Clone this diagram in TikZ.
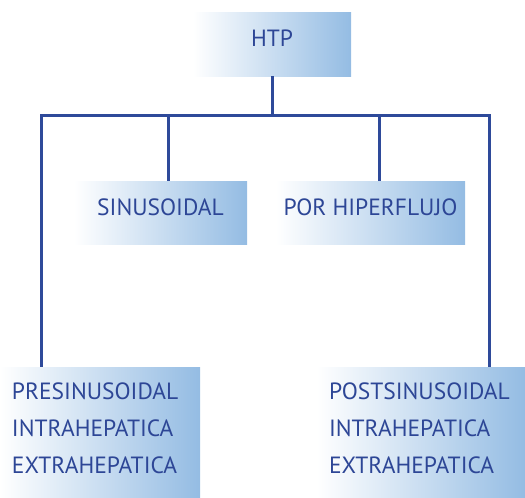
\documentclass[tikz,border=0pt]{standalone}
\usepackage{fontspec}
\setmainfont{PT Sans}
\usetikzlibrary{positioning}

\definecolor{inkblue}{HTML}{2D4696}
\definecolor{lineblue}{HTML}{2E4A9A}
\definecolor{boxblue}{HTML}{94BCE3}

\newcommand{\lowpad}{\rule[-8pt]{0pt}{8pt}}

\tikzset{
  grbox/.style={left color=white, right color=boxblue, draw=none,
    text=inkblue, inner sep=0pt, font=\fontsize{23.5}{37}\selectfont},
  onebox/.style={grbox, text height=17pt, text depth=12pt},
  listbox/.style={grbox, align=left, inner xsep=12pt},
  tree/.style={draw=lineblue, line width=3pt}
}

\begin{document}
\begin{tikzpicture}[x=1pt, y=-1pt]
\useasboundingbox (0,0) rectangle (525,498);
% boxes
\node[onebox, minimum width=158pt, minimum height=64pt] (htp) at (272,44) {HTP};
\node[onebox, minimum width=173pt, minimum height=63pt] (sinus) at (160.5,212.5) {SINUSOIDAL};
\node[onebox, minimum width=189pt, minimum height=63pt] (hiper) at (370.5,212.5) {POR HIPERFLUJO};
\node[listbox, minimum width=200pt, minimum height=131pt, text width=176pt] (pre) at (100,432.5)
  {PRESINUSOIDAL\\INTRAHEPATICA\\EXTRAHEPATICA\lowpad};
\node[listbox, minimum width=208pt, minimum height=131pt, text width=184pt] (post) at (421,432.5)
  {POSTSINUSOIDAL\\INTRAHEPATICA\\EXTRAHEPATICA\lowpad};
% bar
\coordinate (bl) at (41,115);
\coordinate (br) at (489,115);
\coordinate (bar) at (272,115);
\coordinate (sl) at (168,115);
\coordinate (hl) at (379,115);
\draw[tree] (htp.south) -- (bar);
\draw[tree, line cap=rect] (bl) -- (br);
% legs
\draw[tree] (bl) -- (bl |- pre.north);
\draw[tree] (br) -- (br |- post.north);
\draw[tree] (sl) -- (sl |- sinus.north);
\draw[tree] (hl) -- (hl |- hiper.north);
\end{tikzpicture}
\end{document}
